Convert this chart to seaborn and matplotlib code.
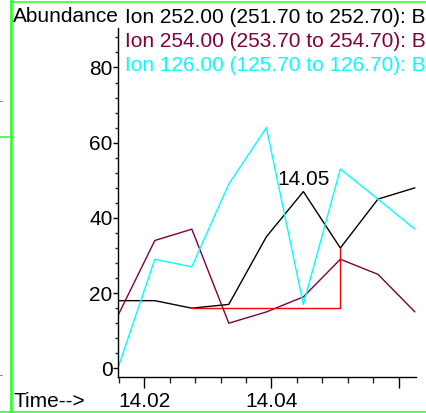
import matplotlib
matplotlib.use("Agg")
import matplotlib.pyplot as plt
import seaborn as sns
import pandas as pd
from matplotlib.lines import Line2D
from matplotlib.ticker import MultipleLocator, FixedLocator, FixedFormatter

# ---- data ----
times = [14.0159, 14.0217, 14.0275, 14.0333, 14.0392, 14.0450, 14.0508, 14.0567, 14.0625]
ion252 = [18, 18, 16, 17, 35, 47, 32, 45, 48]
ion254 = [14, 34, 37, 12, 15, 19, 29, 25, 15]
ion126 = [0, 29, 27, 49, 64, 17, 53, 45, 37]
series_names = ["Ion 252.00 (251.70 to 252.70): B",
                "Ion 254.00 (253.70 to 254.70): B",
                "Ion 126.00 (125.70 to 126.70): B"]
series_colors = ["#000000", "#800040", "#00ffff"]
baseline_t = [14.0275, 14.0508, 14.0508]
baseline_y = [16, 16, 32]
peak_time = 14.0450
peak_value = 47
peak_label = "14.05"
xtick_major = [14.02, 14.04, 14.06]
xtick_labels = ["14.02", "14.04", ""]
ytick_major = [0, 20, 40, 60, 80]

sns.set_theme(style="white")
plt.rcParams["font.family"] = ["Liberation Sans", "DejaVu Sans"]
FS = 15

df = pd.DataFrame({
    "time": times * 3,
    "abundance": ion252 + ion254 + ion126,
    "ion": [series_names[0]] * len(times) + [series_names[1]] * len(times) + [series_names[2]] * len(times),
})

fig = plt.figure(figsize=(4.26, 4.13), dpi=100)
fig.patch.set_facecolor("white")
ax = fig.add_axes([0.277, 0.0872, 0.6988, 0.8450])
ax.set_facecolor("white")

sns.lineplot(data=df, x="time", y="abundance", hue="ion", hue_order=series_names,
             palette=series_colors, sort=False, legend=False, linewidth=1.0, ax=ax)
sns.lineplot(x=baseline_t, y=baseline_y, sort=False, color="#ff0000", linewidth=1.0,
             estimator=None, ax=ax)

ax.set_xlim(14.01592, 14.06262)
ax.set_ylim(-2.3, 90.5)

for s in ["top", "right"]:
    ax.spines[s].set_visible(False)
for s in ["left", "bottom"]:
    ax.spines[s].set_color("black")
    ax.spines[s].set_linewidth(1.0)

ax.xaxis.set_major_locator(FixedLocator(xtick_major))
ax.xaxis.set_major_formatter(FixedFormatter(xtick_labels))
ax.xaxis.set_minor_locator(MultipleLocator(0.004))
ax.yaxis.set_major_locator(FixedLocator(ytick_major))
ax.yaxis.set_minor_locator(MultipleLocator(4))

ax.tick_params(axis="x", which="major", direction="out", length=8, width=1.0,
               pad=3, labelsize=FS, bottom=True, colors="black")
ax.tick_params(axis="x", which="minor", direction="out", length=4.5, width=1.0, bottom=True)
ax.tick_params(axis="y", which="major", direction="out", length=3.5, width=1.0,
               pad=0.5, labelsize=FS, left=True, colors="black")
ax.tick_params(axis="y", which="minor", direction="out", length=2, width=1.0, left=True)
ax.set_xlabel("")
ax.set_ylabel("")

ax.annotate(peak_label, (peak_time, peak_value), xytext=(0, 4.5), textcoords="offset points",
            ha="center", va="baseline", fontsize=FS, color="black")

W, H = 426.0, 413.0
def fx(px):
    return px / W
def fy(py):
    return 1 - py / H

fig.text(fx(13), fy(22.5), "Abundance", fontsize=FS, va="baseline", ha="left", color="black")
for i, (name, col) in enumerate(zip(series_names, series_colors)):
    fig.text(fx(125), fy(22.7 + 24.3 * i), name, fontsize=FS, va="baseline", ha="left", color=col)
fig.text(fx(13), fy(406.7), "Time-->", fontsize=FS, va="baseline", ha="left", color="black")

green = "#33ff33"
fig.add_artist(Line2D([fx(11.3), fx(11.3)], [0, 1], color=green, linewidth=2.0, transform=fig.transFigure))
fig.add_artist(Line2D([0, fx(11.3)], [fy(136.7), fy(136.7)], color=green, linewidth=1.2, transform=fig.transFigure))
fig.add_artist(Line2D([0, 1], [fy(411.5), fy(411.5)], color=green, linewidth=1.2, transform=fig.transFigure))
fig.add_artist(Line2D([fx(11.3), 1], [fy(1.5), fy(1.5)], color=green, linewidth=1.2, transform=fig.transFigure))
fig.add_artist(Line2D([0, fx(2)], [fy(100.5), fy(100.5)], color="#888888", linewidth=0.8, transform=fig.transFigure))
fig.add_artist(Line2D([0, fx(2)], [fy(375), fy(375)], color="#888888", linewidth=0.8, transform=fig.transFigure))

fig.savefig("out.png", dpi=100)
